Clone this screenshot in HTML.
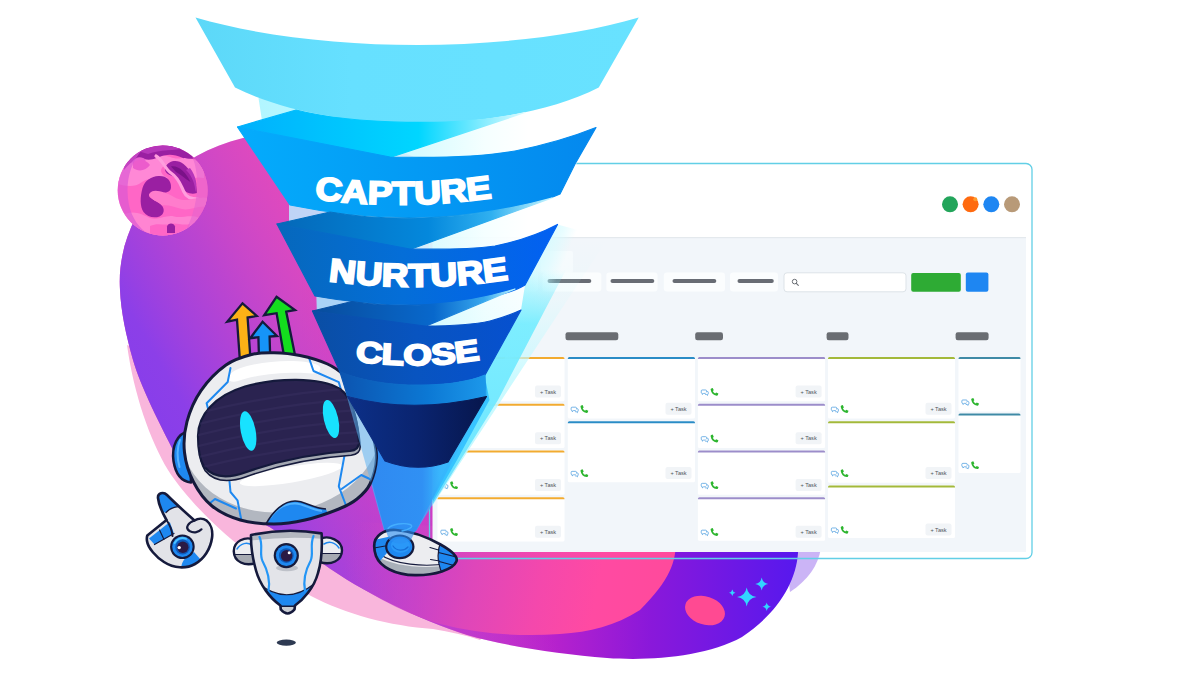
<!DOCTYPE html>
<html lang="en"><head><meta charset="utf-8"><title>Capture Nurture Close</title>
<style>
html,body{margin:0;padding:0;background:#fff;}
body{width:1200px;height:675px;overflow:hidden;font-family:"Liberation Sans",sans-serif;}
svg{display:block}
</style></head><body>
<svg width="1200" height="675" viewBox="0 0 1200 675" font-family="Liberation Sans, sans-serif">
<defs>
  <linearGradient id="gBlob" gradientUnits="userSpaceOnUse" x1="300" y1="0" x2="800" y2="0">
    <stop offset="0" stop-color="#e24abc"/>
    <stop offset="0.3" stop-color="#d838c0"/>
    <stop offset="0.5" stop-color="#b822cc"/>
    <stop offset="0.7" stop-color="#8a18da"/>
    <stop offset="1" stop-color="#5618ee"/>
  </linearGradient>
  <linearGradient id="gBlobL" gradientUnits="userSpaceOnUse" x1="105" y1="335" x2="310" y2="216">
    <stop offset="0" stop-color="#883eea"/>
    <stop offset="0.14" stop-color="#8c3fe8"/>
    <stop offset="0.55" stop-color="#9c40e0" stop-opacity="0.55"/>
    <stop offset="1" stop-color="#b044d8" stop-opacity="0"/>
  </linearGradient>
  <linearGradient id="gPinkIn" gradientUnits="userSpaceOnUse" x1="350" y1="540" x2="660" y2="600">
    <stop offset="0" stop-color="#c844c8" stop-opacity="0"/>
    <stop offset="0.22" stop-color="#cc44c6" stop-opacity="0.7"/>
    <stop offset="0.4" stop-color="#de46ba"/>
    <stop offset="0.62" stop-color="#f448ac"/>
    <stop offset="0.8" stop-color="#ff4aa2"/>
    <stop offset="1" stop-color="#ff4a9c"/>
  </linearGradient>
</defs>
<rect width="1200" height="675" fill="#ffffff"/>
<!-- pink shadow blob -->
<path d="M127,345 C134,395 150,440 168,470 C195,512 250,560 311,596 C345,614 390,626 433,629 C450,632 465,635 480,640 L520,600 L300,400 Z" fill="#f9b6dc"/>
<!-- lavender shadow right -->
<path d="M785,548 L821,548 C818,566 808,580 790,592 Z" fill="#cbb4f6"/>
<!-- main blob -->
<path d="M120,290 C116,225 160,158 243,138 C330,118 430,150 500,210 L820,300 L798,553 C796,582 778,613 742,637 C706,657 650,661 607,658 C560,654 505,646 467,635 C420,620 362,592 322,563 C290,540 272,528 264,524 C225,500 198,485 180,463 C160,425 140,385 133,360 C126,335 121,312 120,290 Z" fill="url(#gBlob)"/>
<path d="M120,290 C116,225 160,158 243,138 C330,118 430,150 500,210 L820,300 L798,553 C796,582 778,613 742,637 C706,657 650,661 607,658 C560,654 505,646 467,635 C420,620 362,592 322,563 C290,540 272,528 264,524 C225,500 198,485 180,463 C160,425 140,385 133,360 C126,335 121,312 120,290 Z" fill="url(#gBlobL)"/>
<!-- inner pink shape -->
<path d="M330,520 L676,540 C676,562 670,580 640,610 C615,626 590,632 560,634 C520,637 480,634 440,624 C400,612 360,590 330,565 Z" fill="url(#gPinkIn)"/>
<!-- small pink ellipse -->
<ellipse cx="705" cy="610.5" rx="20.5" ry="14" transform="rotate(18 705 610.5)" fill="#ff4a92"/>
<!-- sparkles -->
<g fill="#32d6ff">
  <path d="M746.7,587.5 Q748,595.7 756.5,597 Q748,598.3 746.7,606.5 Q745.4,598.3 737,597 Q745.4,595.7 746.7,587.5Z"/>
  <path d="M761.7,577.5 Q762.6,583.1 768.2,584 Q762.6,584.9 761.7,590.5 Q760.8,584.9 755.2,584 Q760.8,583.1 761.7,577.5Z"/>
  <path d="M766.7,602.5 Q767.3,606.1 771,606.7 Q767.3,607.3 766.7,611 Q766.1,607.3 762.4,606.7 Q766.1,606.1 766.7,602.5Z"/>
  <path d="M732.3,589.5 Q732.8,592.2 735.5,592.7 Q732.8,593.2 732.3,596 Q731.8,593.2 729,592.7 Q731.8,592.2 732.3,589.5Z"/>
</g>
<!-- planet -->
<defs><clipPath id="cpPlanet"><circle cx="162.7" cy="190.4" r="45"/></clipPath></defs>
<circle cx="162.7" cy="190.4" r="45" fill="#ff66c6"/>
<g clip-path="url(#cpPlanet)">
  <!-- lighter pink band under the cap -->
  <path d="M118,172 C126,160 134,156 142,158 C150,160 154,154 162,155 C170,156 174,160 182,158 C190,156 196,160 204,166 L204,178 C196,176 190,180 184,178 C178,168 170,164 164,166 C158,170 162,176 168,178 C160,180 150,176 142,182 C134,188 126,186 118,184 Z" fill="#ff88d6"/>
  <!-- top purple cap -->
  <path d="M125,152 L200,138 L206,164 C198,156 191,160 183,158 C175,155 171,154 164,155.5 C157,157 152,161.5 144,159 C137,157 131,162 124,170 Z" fill="#9a1fa2"/>
  <path d="M138,151 C150,145 172,143 184,148 C176,151 160,149 148,154 Z" fill="#b636ba"/>
  <path d="M132,162 C136,156 142,156 146,160 C142,164 136,166 132,162 Z" fill="#e860d0"/>
  <!-- right purple blob -->
  <path d="M165.5,167 C169,160 178,159.5 183.5,164 C191,170 196.5,180 197,193 C191,195 185,192.5 182.5,188 C179.5,182 176.5,177.5 171,175.5 C166,174 164,170.5 165.5,167 Z" fill="#9a1fa2"/>
  <path d="M171,166.5 C178,165 186,172 190.5,182 C185,179 181,174.5 176,172 Z" fill="#7a1288"/>
  <path d="M186,170 C192,176 195,184 195.5,192 C198,186 196,176 190,168 Z" fill="#b636ba"/>
  <!-- light ribbon -->
  <path d="M156,156 C163,160 164,168 171,173 C179,178 181,186 184,192 C186,197 192,199 198,199" fill="none" stroke="#ff9ede" stroke-width="3.2" stroke-linecap="round"/>
  <path d="M133,163 C139,158 146,160 150,165 C146,171 138,172 133,168 Z" fill="#ec5ccc"/>
  <!-- central blob -->
  <path d="M142.5,188 C145,180 151.5,176.5 158.5,176 C166.5,175.5 171.5,180.5 171,187.5 C170.7,192 166,193.2 160,192.5 C155.5,192 151,190.5 149,194.5 C148,198.5 156.5,200.5 161,204.5 C165.5,209 164,214.5 159.5,216.5 C153.5,218.7 147,216.5 143.5,212 C139.8,206.5 140,197 142.5,188 Z" fill="#9a1fa2"/>
  <!-- light streaks -->
  <path d="M149,194.5 C152,189 158,190.5 164,192.5 C172,194.5 176,200 184,200 C192,200 200,196 208,198 L208,207 C198,205 190,211 182,209 C174,207 168,204.5 162,205.5 C158,201.5 150,199.5 149,194.5 Z" fill="#ff7ccc"/>
  <path d="M122,216 C132,209 142,214.5 150,218 C158,221 166,214.5 174,216.5 C182,218.5 190,214 200,218 L196,240 L130,240 Z" fill="#ff84d2"/>
  <path d="M150,226 C158,222 164,226 170,224 C176,222 182,226 190,224 L186,236 L150,238 Z" fill="#ff66c6"/>
  <path d="M167,226.5 C168,222.5 174,222.5 175,226.5 L175,233 L167,233 Z" fill="#9a1fa2"/>
  <!-- left translucent crescent -->
  <path d="M117,190 A45,45 0 0 1 142,150 C129,165 125,185 129,205 C132,218 139,228 148,234 A45,45 0 0 1 117,190 Z" fill="#d858d4" opacity="0.65"/>
  <!-- right translucent crescent -->
  <path d="M191,154 C199,170 201,200 186,230 L215,230 L215,154 Z" fill="#e264d0" opacity="0.55"/>
</g>
<!-- dashboard window -->
<rect x="429.5" y="163.5" width="602.5" height="395" rx="6" fill="none" stroke="#62cfe6" stroke-width="1.3"/>
<rect x="432.5" y="168" width="593.5" height="384" fill="#f2f6fa"/>
<rect x="432.5" y="165" width="593.5" height="72.5" fill="#ffffff"/>
<rect x="432.5" y="237" width="593.5" height="1.2" fill="#e4e9ed"/>
<circle cx="950" cy="204.3" r="8" fill="#23a55b"/>
<circle cx="970.6" cy="204.3" r="8" fill="#ff6a0f"/>
<circle cx="991.3" cy="204.3" r="8" fill="#1e86f2"/>
<circle cx="1012" cy="204.3" r="8" fill="#b89a78"/>
<circle cx="975.3" cy="199.2" r="2" fill="#ff9a2a"/>
<rect x="541" y="251" width="32" height="22" rx="2" fill="#f8fbfd"/>
<rect x="505" y="272.5" width="33.0" height="19" rx="3" fill="#fbfdfe"/>
<rect x="512" y="279" width="17.0" height="4" rx="2" fill="#686c74"/>
<rect x="542.5" y="272.5" width="58.8" height="19" rx="3" fill="#fbfdfe"/>
<rect x="547.5" y="279" width="43.8" height="4" rx="2" fill="#686c74"/>
<rect x="606.3" y="272.5" width="51.2" height="19" rx="3" fill="#fbfdfe"/>
<rect x="610.5" y="279" width="43.8" height="4" rx="2" fill="#686c74"/>
<rect x="663.8" y="272.5" width="61.2" height="19" rx="3" fill="#fbfdfe"/>
<rect x="672.5" y="279" width="43.8" height="4" rx="2" fill="#686c74"/>
<rect x="730" y="272.5" width="48.0" height="19" rx="3" fill="#fbfdfe"/>
<rect x="737.5" y="279" width="36.3" height="4" rx="2" fill="#686c74"/>
<rect x="784" y="272.8" width="122" height="19" rx="3" fill="#ffffff" stroke="#dde3e8" stroke-width="1"/>
<circle cx="794.6" cy="281.6" r="2.3" fill="none" stroke="#6a6e74" stroke-width="1"/><path d="M796.3,283.4 L798.3,285.4" stroke="#6a6e74" stroke-width="1.1" stroke-linecap="round"/>
<rect x="911.2" y="273" width="49.6" height="18.8" rx="2" fill="#2eab34"/>
<rect x="965.8" y="272.6" width="22.6" height="19.2" rx="2" fill="#1e86f2"/>
<rect x="565.5" y="332.2" width="52.8" height="8" rx="2.2" fill="#6a6d72"/>
<rect x="695.2" y="332.2" width="27.8" height="8" rx="2.2" fill="#6a6d72"/>
<rect x="826.6" y="332.2" width="21.9" height="8" rx="2.2" fill="#6a6d72"/>
<rect x="955.6" y="332.2" width="33.0" height="8" rx="2.2" fill="#6a6d72"/>
<rect x="437.5" y="357.0" width="127.0" height="44.3" rx="1.5" fill="#ffffff"/>
<path d="M439.0,357.0 h124.0 a1.5,1.5 0 0 1 1.5,1.5 v0.6 h-127.0 v-0.6 a1.5,1.5 0 0 1 1.5,-1.5z" fill="#f2ab30"/>
<g transform="translate(444.6 392.0) scale(0.78)"><path d="M-3.6,-2.6 h4.4 a1.2,1.2 0 0 1 1.2,1.2 v2 a1.2,1.2 0 0 1 -1.2,1.2 h-2.6 l-1.6,1.4 v-1.4 h-0.2 a1.2,1.2 0 0 1 -1.2,-1.2 v-2 a1.2,1.2 0 0 1 1.2,-1.2z" fill="none" stroke="#3f97dd" stroke-width="0.9"/><path d="M2.4,-0.6 h0.8 a1,1 0 0 1 1,1 v1.8 a1,1 0 0 1 -1,1 v1.2 l-1.4,-1.2 h-1.6" fill="#fff" stroke="#3f97dd" stroke-width="0.9"/></g><g transform="translate(454.0 391.8)"><path d="M-3.2,-3.4 l1.5,-0.5 l1.1,2.3 l-1,0.9 a5,5 0 0 0 2.4,2.4 l0.9,-1 l2.3,1.1 l-0.5,1.5 a1.2,1.2 0 0 1 -1.2,0.6 a7.4,7.4 0 0 1 -6.1,-6.1 a1.2,1.2 0 0 1 0.6,-1.2z" fill="#2db52f"/></g>
<rect x="535.0" y="385.5" width="26" height="12" rx="2" fill="#f1f4f7"/><text x="548.0" y="393.7" font-size="5.6" fill="#50545a" text-anchor="middle">+ Task</text>
<rect x="437.5" y="403.7" width="127.0" height="44.3" rx="1.5" fill="#ffffff"/>
<path d="M439.0,403.7 h124.0 a1.5,1.5 0 0 1 1.5,1.5 v0.6 h-127.0 v-0.6 a1.5,1.5 0 0 1 1.5,-1.5z" fill="#f2ab30"/>
<g transform="translate(444.6 438.7) scale(0.78)"><path d="M-3.6,-2.6 h4.4 a1.2,1.2 0 0 1 1.2,1.2 v2 a1.2,1.2 0 0 1 -1.2,1.2 h-2.6 l-1.6,1.4 v-1.4 h-0.2 a1.2,1.2 0 0 1 -1.2,-1.2 v-2 a1.2,1.2 0 0 1 1.2,-1.2z" fill="none" stroke="#3f97dd" stroke-width="0.9"/><path d="M2.4,-0.6 h0.8 a1,1 0 0 1 1,1 v1.8 a1,1 0 0 1 -1,1 v1.2 l-1.4,-1.2 h-1.6" fill="#fff" stroke="#3f97dd" stroke-width="0.9"/></g><g transform="translate(454.0 438.5)"><path d="M-3.2,-3.4 l1.5,-0.5 l1.1,2.3 l-1,0.9 a5,5 0 0 0 2.4,2.4 l0.9,-1 l2.3,1.1 l-0.5,1.5 a1.2,1.2 0 0 1 -1.2,0.6 a7.4,7.4 0 0 1 -6.1,-6.1 a1.2,1.2 0 0 1 0.6,-1.2z" fill="#2db52f"/></g>
<rect x="535.0" y="432.2" width="26" height="12" rx="2" fill="#f1f4f7"/><text x="548.0" y="440.4" font-size="5.6" fill="#50545a" text-anchor="middle">+ Task</text>
<rect x="437.5" y="450.4" width="127.0" height="44.3" rx="1.5" fill="#ffffff"/>
<path d="M439.0,450.4 h124.0 a1.5,1.5 0 0 1 1.5,1.5 v0.6 h-127.0 v-0.6 a1.5,1.5 0 0 1 1.5,-1.5z" fill="#f2ab30"/>
<g transform="translate(444.6 485.4) scale(0.78)"><path d="M-3.6,-2.6 h4.4 a1.2,1.2 0 0 1 1.2,1.2 v2 a1.2,1.2 0 0 1 -1.2,1.2 h-2.6 l-1.6,1.4 v-1.4 h-0.2 a1.2,1.2 0 0 1 -1.2,-1.2 v-2 a1.2,1.2 0 0 1 1.2,-1.2z" fill="none" stroke="#3f97dd" stroke-width="0.9"/><path d="M2.4,-0.6 h0.8 a1,1 0 0 1 1,1 v1.8 a1,1 0 0 1 -1,1 v1.2 l-1.4,-1.2 h-1.6" fill="#fff" stroke="#3f97dd" stroke-width="0.9"/></g><g transform="translate(454.0 485.2)"><path d="M-3.2,-3.4 l1.5,-0.5 l1.1,2.3 l-1,0.9 a5,5 0 0 0 2.4,2.4 l0.9,-1 l2.3,1.1 l-0.5,1.5 a1.2,1.2 0 0 1 -1.2,0.6 a7.4,7.4 0 0 1 -6.1,-6.1 a1.2,1.2 0 0 1 0.6,-1.2z" fill="#2db52f"/></g>
<rect x="535.0" y="478.9" width="26" height="12" rx="2" fill="#f1f4f7"/><text x="548.0" y="487.1" font-size="5.6" fill="#50545a" text-anchor="middle">+ Task</text>
<rect x="437.5" y="497.2" width="127.0" height="44.3" rx="1.5" fill="#ffffff"/>
<path d="M439.0,497.2 h124.0 a1.5,1.5 0 0 1 1.5,1.5 v0.6 h-127.0 v-0.6 a1.5,1.5 0 0 1 1.5,-1.5z" fill="#f2ab30"/>
<g transform="translate(444.6 532.2) scale(0.78)"><path d="M-3.6,-2.6 h4.4 a1.2,1.2 0 0 1 1.2,1.2 v2 a1.2,1.2 0 0 1 -1.2,1.2 h-2.6 l-1.6,1.4 v-1.4 h-0.2 a1.2,1.2 0 0 1 -1.2,-1.2 v-2 a1.2,1.2 0 0 1 1.2,-1.2z" fill="none" stroke="#3f97dd" stroke-width="0.9"/><path d="M2.4,-0.6 h0.8 a1,1 0 0 1 1,1 v1.8 a1,1 0 0 1 -1,1 v1.2 l-1.4,-1.2 h-1.6" fill="#fff" stroke="#3f97dd" stroke-width="0.9"/></g><g transform="translate(454.0 532.0)"><path d="M-3.2,-3.4 l1.5,-0.5 l1.1,2.3 l-1,0.9 a5,5 0 0 0 2.4,2.4 l0.9,-1 l2.3,1.1 l-0.5,1.5 a1.2,1.2 0 0 1 -1.2,0.6 a7.4,7.4 0 0 1 -6.1,-6.1 a1.2,1.2 0 0 1 0.6,-1.2z" fill="#2db52f"/></g>
<rect x="535.0" y="525.7" width="26" height="12" rx="2" fill="#f1f4f7"/><text x="548.0" y="533.9" font-size="5.6" fill="#50545a" text-anchor="middle">+ Task</text>
<rect x="567.8" y="357.0" width="127.2" height="61.5" rx="1.5" fill="#ffffff"/>
<path d="M569.3,357.0 h124.2 a1.5,1.5 0 0 1 1.5,1.5 v0.6 h-127.2 v-0.6 a1.5,1.5 0 0 1 1.5,-1.5z" fill="#2a8cc6"/>
<g transform="translate(574.9 409.2) scale(0.78)"><path d="M-3.6,-2.6 h4.4 a1.2,1.2 0 0 1 1.2,1.2 v2 a1.2,1.2 0 0 1 -1.2,1.2 h-2.6 l-1.6,1.4 v-1.4 h-0.2 a1.2,1.2 0 0 1 -1.2,-1.2 v-2 a1.2,1.2 0 0 1 1.2,-1.2z" fill="none" stroke="#3f97dd" stroke-width="0.9"/><path d="M2.4,-0.6 h0.8 a1,1 0 0 1 1,1 v1.8 a1,1 0 0 1 -1,1 v1.2 l-1.4,-1.2 h-1.6" fill="#fff" stroke="#3f97dd" stroke-width="0.9"/></g><g transform="translate(584.3 409.0)"><path d="M-3.2,-3.4 l1.5,-0.5 l1.1,2.3 l-1,0.9 a5,5 0 0 0 2.4,2.4 l0.9,-1 l2.3,1.1 l-0.5,1.5 a1.2,1.2 0 0 1 -1.2,0.6 a7.4,7.4 0 0 1 -6.1,-6.1 a1.2,1.2 0 0 1 0.6,-1.2z" fill="#2db52f"/></g>
<rect x="665.5" y="402.7" width="26" height="12" rx="2" fill="#f1f4f7"/><text x="678.5" y="410.9" font-size="5.6" fill="#50545a" text-anchor="middle">+ Task</text>
<rect x="567.8" y="421.2" width="127.2" height="61.0" rx="1.5" fill="#ffffff"/>
<path d="M569.3,421.2 h124.2 a1.5,1.5 0 0 1 1.5,1.5 v0.6 h-127.2 v-0.6 a1.5,1.5 0 0 1 1.5,-1.5z" fill="#2a8cc6"/>
<g transform="translate(574.9 473.4) scale(0.78)"><path d="M-3.6,-2.6 h4.4 a1.2,1.2 0 0 1 1.2,1.2 v2 a1.2,1.2 0 0 1 -1.2,1.2 h-2.6 l-1.6,1.4 v-1.4 h-0.2 a1.2,1.2 0 0 1 -1.2,-1.2 v-2 a1.2,1.2 0 0 1 1.2,-1.2z" fill="none" stroke="#3f97dd" stroke-width="0.9"/><path d="M2.4,-0.6 h0.8 a1,1 0 0 1 1,1 v1.8 a1,1 0 0 1 -1,1 v1.2 l-1.4,-1.2 h-1.6" fill="#fff" stroke="#3f97dd" stroke-width="0.9"/></g><g transform="translate(584.3 473.2)"><path d="M-3.2,-3.4 l1.5,-0.5 l1.1,2.3 l-1,0.9 a5,5 0 0 0 2.4,2.4 l0.9,-1 l2.3,1.1 l-0.5,1.5 a1.2,1.2 0 0 1 -1.2,0.6 a7.4,7.4 0 0 1 -6.1,-6.1 a1.2,1.2 0 0 1 0.6,-1.2z" fill="#2db52f"/></g>
<rect x="665.5" y="466.9" width="26" height="12" rx="2" fill="#f1f4f7"/><text x="678.5" y="475.1" font-size="5.6" fill="#50545a" text-anchor="middle">+ Task</text>
<rect x="697.9" y="357.0" width="127.2" height="44.3" rx="1.5" fill="#ffffff"/>
<path d="M699.4,357.0 h124.2 a1.5,1.5 0 0 1 1.5,1.5 v0.6 h-127.2 v-0.6 a1.5,1.5 0 0 1 1.5,-1.5z" fill="#9c8dca"/>
<g transform="translate(705.0 392.0) scale(0.78)"><path d="M-3.6,-2.6 h4.4 a1.2,1.2 0 0 1 1.2,1.2 v2 a1.2,1.2 0 0 1 -1.2,1.2 h-2.6 l-1.6,1.4 v-1.4 h-0.2 a1.2,1.2 0 0 1 -1.2,-1.2 v-2 a1.2,1.2 0 0 1 1.2,-1.2z" fill="none" stroke="#3f97dd" stroke-width="0.9"/><path d="M2.4,-0.6 h0.8 a1,1 0 0 1 1,1 v1.8 a1,1 0 0 1 -1,1 v1.2 l-1.4,-1.2 h-1.6" fill="#fff" stroke="#3f97dd" stroke-width="0.9"/></g><g transform="translate(714.4 391.8)"><path d="M-3.2,-3.4 l1.5,-0.5 l1.1,2.3 l-1,0.9 a5,5 0 0 0 2.4,2.4 l0.9,-1 l2.3,1.1 l-0.5,1.5 a1.2,1.2 0 0 1 -1.2,0.6 a7.4,7.4 0 0 1 -6.1,-6.1 a1.2,1.2 0 0 1 0.6,-1.2z" fill="#2db52f"/></g>
<rect x="795.6" y="385.5" width="26" height="12" rx="2" fill="#f1f4f7"/><text x="808.6" y="393.7" font-size="5.6" fill="#50545a" text-anchor="middle">+ Task</text>
<rect x="697.9" y="403.7" width="127.2" height="44.3" rx="1.5" fill="#ffffff"/>
<path d="M699.4,403.7 h124.2 a1.5,1.5 0 0 1 1.5,1.5 v0.6 h-127.2 v-0.6 a1.5,1.5 0 0 1 1.5,-1.5z" fill="#9c8dca"/>
<g transform="translate(705.0 438.7) scale(0.78)"><path d="M-3.6,-2.6 h4.4 a1.2,1.2 0 0 1 1.2,1.2 v2 a1.2,1.2 0 0 1 -1.2,1.2 h-2.6 l-1.6,1.4 v-1.4 h-0.2 a1.2,1.2 0 0 1 -1.2,-1.2 v-2 a1.2,1.2 0 0 1 1.2,-1.2z" fill="none" stroke="#3f97dd" stroke-width="0.9"/><path d="M2.4,-0.6 h0.8 a1,1 0 0 1 1,1 v1.8 a1,1 0 0 1 -1,1 v1.2 l-1.4,-1.2 h-1.6" fill="#fff" stroke="#3f97dd" stroke-width="0.9"/></g><g transform="translate(714.4 438.5)"><path d="M-3.2,-3.4 l1.5,-0.5 l1.1,2.3 l-1,0.9 a5,5 0 0 0 2.4,2.4 l0.9,-1 l2.3,1.1 l-0.5,1.5 a1.2,1.2 0 0 1 -1.2,0.6 a7.4,7.4 0 0 1 -6.1,-6.1 a1.2,1.2 0 0 1 0.6,-1.2z" fill="#2db52f"/></g>
<rect x="795.6" y="432.2" width="26" height="12" rx="2" fill="#f1f4f7"/><text x="808.6" y="440.4" font-size="5.6" fill="#50545a" text-anchor="middle">+ Task</text>
<rect x="697.9" y="450.4" width="127.2" height="44.3" rx="1.5" fill="#ffffff"/>
<path d="M699.4,450.4 h124.2 a1.5,1.5 0 0 1 1.5,1.5 v0.6 h-127.2 v-0.6 a1.5,1.5 0 0 1 1.5,-1.5z" fill="#9c8dca"/>
<g transform="translate(705.0 485.4) scale(0.78)"><path d="M-3.6,-2.6 h4.4 a1.2,1.2 0 0 1 1.2,1.2 v2 a1.2,1.2 0 0 1 -1.2,1.2 h-2.6 l-1.6,1.4 v-1.4 h-0.2 a1.2,1.2 0 0 1 -1.2,-1.2 v-2 a1.2,1.2 0 0 1 1.2,-1.2z" fill="none" stroke="#3f97dd" stroke-width="0.9"/><path d="M2.4,-0.6 h0.8 a1,1 0 0 1 1,1 v1.8 a1,1 0 0 1 -1,1 v1.2 l-1.4,-1.2 h-1.6" fill="#fff" stroke="#3f97dd" stroke-width="0.9"/></g><g transform="translate(714.4 485.2)"><path d="M-3.2,-3.4 l1.5,-0.5 l1.1,2.3 l-1,0.9 a5,5 0 0 0 2.4,2.4 l0.9,-1 l2.3,1.1 l-0.5,1.5 a1.2,1.2 0 0 1 -1.2,0.6 a7.4,7.4 0 0 1 -6.1,-6.1 a1.2,1.2 0 0 1 0.6,-1.2z" fill="#2db52f"/></g>
<rect x="795.6" y="478.9" width="26" height="12" rx="2" fill="#f1f4f7"/><text x="808.6" y="487.1" font-size="5.6" fill="#50545a" text-anchor="middle">+ Task</text>
<rect x="697.9" y="497.2" width="127.2" height="43.5" rx="1.5" fill="#ffffff"/>
<path d="M699.4,497.2 h124.2 a1.5,1.5 0 0 1 1.5,1.5 v0.6 h-127.2 v-0.6 a1.5,1.5 0 0 1 1.5,-1.5z" fill="#9c8dca"/>
<g transform="translate(705.0 532.2) scale(0.78)"><path d="M-3.6,-2.6 h4.4 a1.2,1.2 0 0 1 1.2,1.2 v2 a1.2,1.2 0 0 1 -1.2,1.2 h-2.6 l-1.6,1.4 v-1.4 h-0.2 a1.2,1.2 0 0 1 -1.2,-1.2 v-2 a1.2,1.2 0 0 1 1.2,-1.2z" fill="none" stroke="#3f97dd" stroke-width="0.9"/><path d="M2.4,-0.6 h0.8 a1,1 0 0 1 1,1 v1.8 a1,1 0 0 1 -1,1 v1.2 l-1.4,-1.2 h-1.6" fill="#fff" stroke="#3f97dd" stroke-width="0.9"/></g><g transform="translate(714.4 532.0)"><path d="M-3.2,-3.4 l1.5,-0.5 l1.1,2.3 l-1,0.9 a5,5 0 0 0 2.4,2.4 l0.9,-1 l2.3,1.1 l-0.5,1.5 a1.2,1.2 0 0 1 -1.2,0.6 a7.4,7.4 0 0 1 -6.1,-6.1 a1.2,1.2 0 0 1 0.6,-1.2z" fill="#2db52f"/></g>
<rect x="795.6" y="525.7" width="26" height="12" rx="2" fill="#f1f4f7"/><text x="808.6" y="533.9" font-size="5.6" fill="#50545a" text-anchor="middle">+ Task</text>
<rect x="828.0" y="357.0" width="127.0" height="61.5" rx="1.5" fill="#ffffff"/>
<path d="M829.5,357.0 h124.0 a1.5,1.5 0 0 1 1.5,1.5 v0.6 h-127.0 v-0.6 a1.5,1.5 0 0 1 1.5,-1.5z" fill="#a3b93a"/>
<g transform="translate(835.1 409.2) scale(0.78)"><path d="M-3.6,-2.6 h4.4 a1.2,1.2 0 0 1 1.2,1.2 v2 a1.2,1.2 0 0 1 -1.2,1.2 h-2.6 l-1.6,1.4 v-1.4 h-0.2 a1.2,1.2 0 0 1 -1.2,-1.2 v-2 a1.2,1.2 0 0 1 1.2,-1.2z" fill="none" stroke="#3f97dd" stroke-width="0.9"/><path d="M2.4,-0.6 h0.8 a1,1 0 0 1 1,1 v1.8 a1,1 0 0 1 -1,1 v1.2 l-1.4,-1.2 h-1.6" fill="#fff" stroke="#3f97dd" stroke-width="0.9"/></g><g transform="translate(844.5 409.0)"><path d="M-3.2,-3.4 l1.5,-0.5 l1.1,2.3 l-1,0.9 a5,5 0 0 0 2.4,2.4 l0.9,-1 l2.3,1.1 l-0.5,1.5 a1.2,1.2 0 0 1 -1.2,0.6 a7.4,7.4 0 0 1 -6.1,-6.1 a1.2,1.2 0 0 1 0.6,-1.2z" fill="#2db52f"/></g>
<rect x="925.5" y="402.7" width="26" height="12" rx="2" fill="#f1f4f7"/><text x="938.5" y="410.9" font-size="5.6" fill="#50545a" text-anchor="middle">+ Task</text>
<rect x="828.0" y="421.2" width="127.0" height="61.5" rx="1.5" fill="#ffffff"/>
<path d="M829.5,421.2 h124.0 a1.5,1.5 0 0 1 1.5,1.5 v0.6 h-127.0 v-0.6 a1.5,1.5 0 0 1 1.5,-1.5z" fill="#a3b93a"/>
<g transform="translate(835.1 473.4) scale(0.78)"><path d="M-3.6,-2.6 h4.4 a1.2,1.2 0 0 1 1.2,1.2 v2 a1.2,1.2 0 0 1 -1.2,1.2 h-2.6 l-1.6,1.4 v-1.4 h-0.2 a1.2,1.2 0 0 1 -1.2,-1.2 v-2 a1.2,1.2 0 0 1 1.2,-1.2z" fill="none" stroke="#3f97dd" stroke-width="0.9"/><path d="M2.4,-0.6 h0.8 a1,1 0 0 1 1,1 v1.8 a1,1 0 0 1 -1,1 v1.2 l-1.4,-1.2 h-1.6" fill="#fff" stroke="#3f97dd" stroke-width="0.9"/></g><g transform="translate(844.5 473.2)"><path d="M-3.2,-3.4 l1.5,-0.5 l1.1,2.3 l-1,0.9 a5,5 0 0 0 2.4,2.4 l0.9,-1 l2.3,1.1 l-0.5,1.5 a1.2,1.2 0 0 1 -1.2,0.6 a7.4,7.4 0 0 1 -6.1,-6.1 a1.2,1.2 0 0 1 0.6,-1.2z" fill="#2db52f"/></g>
<rect x="925.5" y="466.9" width="26" height="12" rx="2" fill="#f1f4f7"/><text x="938.5" y="475.1" font-size="5.6" fill="#50545a" text-anchor="middle">+ Task</text>
<rect x="828.0" y="485.5" width="127.0" height="52.5" rx="1.5" fill="#ffffff"/>
<path d="M829.5,485.5 h124.0 a1.5,1.5 0 0 1 1.5,1.5 v0.6 h-127.0 v-0.6 a1.5,1.5 0 0 1 1.5,-1.5z" fill="#a3b93a"/>
<g transform="translate(835.1 530.0) scale(0.78)"><path d="M-3.6,-2.6 h4.4 a1.2,1.2 0 0 1 1.2,1.2 v2 a1.2,1.2 0 0 1 -1.2,1.2 h-2.6 l-1.6,1.4 v-1.4 h-0.2 a1.2,1.2 0 0 1 -1.2,-1.2 v-2 a1.2,1.2 0 0 1 1.2,-1.2z" fill="none" stroke="#3f97dd" stroke-width="0.9"/><path d="M2.4,-0.6 h0.8 a1,1 0 0 1 1,1 v1.8 a1,1 0 0 1 -1,1 v1.2 l-1.4,-1.2 h-1.6" fill="#fff" stroke="#3f97dd" stroke-width="0.9"/></g><g transform="translate(844.5 529.8)"><path d="M-3.2,-3.4 l1.5,-0.5 l1.1,2.3 l-1,0.9 a5,5 0 0 0 2.4,2.4 l0.9,-1 l2.3,1.1 l-0.5,1.5 a1.2,1.2 0 0 1 -1.2,0.6 a7.4,7.4 0 0 1 -6.1,-6.1 a1.2,1.2 0 0 1 0.6,-1.2z" fill="#2db52f"/></g>
<rect x="925.5" y="523.5" width="26" height="12" rx="2" fill="#f1f4f7"/><text x="938.5" y="531.7" font-size="5.6" fill="#50545a" text-anchor="middle">+ Task</text>
<rect x="958.5" y="357.0" width="62.0" height="54.5" rx="1.5" fill="#ffffff"/>
<path d="M960.0,357.0 h59.0 a1.5,1.5 0 0 1 1.5,1.5 v0.6 h-62.0 v-0.6 a1.5,1.5 0 0 1 1.5,-1.5z" fill="#3f8aa6"/>
<g transform="translate(965.6 402.0) scale(0.78)"><path d="M-3.6,-2.6 h4.4 a1.2,1.2 0 0 1 1.2,1.2 v2 a1.2,1.2 0 0 1 -1.2,1.2 h-2.6 l-1.6,1.4 v-1.4 h-0.2 a1.2,1.2 0 0 1 -1.2,-1.2 v-2 a1.2,1.2 0 0 1 1.2,-1.2z" fill="none" stroke="#3f97dd" stroke-width="0.9"/><path d="M2.4,-0.6 h0.8 a1,1 0 0 1 1,1 v1.8 a1,1 0 0 1 -1,1 v1.2 l-1.4,-1.2 h-1.6" fill="#fff" stroke="#3f97dd" stroke-width="0.9"/></g><g transform="translate(975.0 401.8)"><path d="M-3.2,-3.4 l1.5,-0.5 l1.1,2.3 l-1,0.9 a5,5 0 0 0 2.4,2.4 l0.9,-1 l2.3,1.1 l-0.5,1.5 a1.2,1.2 0 0 1 -1.2,0.6 a7.4,7.4 0 0 1 -6.1,-6.1 a1.2,1.2 0 0 1 0.6,-1.2z" fill="#2db52f"/></g>
<rect x="958.5" y="413.4" width="62.0" height="59.6" rx="1.5" fill="#ffffff"/>
<path d="M960.0,413.4 h59.0 a1.5,1.5 0 0 1 1.5,1.5 v0.6 h-62.0 v-0.6 a1.5,1.5 0 0 1 1.5,-1.5z" fill="#3f8aa6"/>
<g transform="translate(965.6 465.4) scale(0.78)"><path d="M-3.6,-2.6 h4.4 a1.2,1.2 0 0 1 1.2,1.2 v2 a1.2,1.2 0 0 1 -1.2,1.2 h-2.6 l-1.6,1.4 v-1.4 h-0.2 a1.2,1.2 0 0 1 -1.2,-1.2 v-2 a1.2,1.2 0 0 1 1.2,-1.2z" fill="none" stroke="#3f97dd" stroke-width="0.9"/><path d="M2.4,-0.6 h0.8 a1,1 0 0 1 1,1 v1.8 a1,1 0 0 1 -1,1 v1.2 l-1.4,-1.2 h-1.6" fill="#fff" stroke="#3f97dd" stroke-width="0.9"/></g><g transform="translate(975.0 465.2)"><path d="M-3.2,-3.4 l1.5,-0.5 l1.1,2.3 l-1,0.9 a5,5 0 0 0 2.4,2.4 l0.9,-1 l2.3,1.1 l-0.5,1.5 a1.2,1.2 0 0 1 -1.2,0.6 a7.4,7.4 0 0 1 -6.1,-6.1 a1.2,1.2 0 0 1 0.6,-1.2z" fill="#2db52f"/></g>
<defs>
  <linearGradient id="gConeL" gradientUnits="userSpaceOnUse" x1="0" y1="330" x2="0" y2="540">
    <stop offset="0" stop-color="#56a8f6" stop-opacity="0.7"/>
    <stop offset="1" stop-color="#4aa0f8" stop-opacity="0.92"/>
  </linearGradient>
  <linearGradient id="gConeI" gradientUnits="userSpaceOnUse" x1="350" y1="0" x2="470" y2="0">
    <stop offset="0" stop-color="#2a86f0" stop-opacity="0.9"/>
    <stop offset="0.6" stop-color="#2c90f4" stop-opacity="0.92"/>
    <stop offset="0.75" stop-color="#36b4fc" stop-opacity="0.95"/>
    <stop offset="1" stop-color="#3cc0ff" stop-opacity="0.95"/>
  </linearGradient>
  <!-- outermost pale cone -->
  <linearGradient id="gConeA" gradientUnits="userSpaceOnUse" x1="0" y1="240" x2="0" y2="540">
    <stop offset="0" stop-color="#c6faff" stop-opacity="0"/>
    <stop offset="0.2" stop-color="#c6faff" stop-opacity="0.14"/>
    <stop offset="0.33" stop-color="#c4f9ff" stop-opacity="0.5"/>
    <stop offset="0.46" stop-color="#c2f9ff" stop-opacity="0.85"/>
    <stop offset="1" stop-color="#b8f6ff" stop-opacity="0.95"/>
  </linearGradient>
  <!-- main cyan cone -->
  <linearGradient id="gConeO" gradientUnits="userSpaceOnUse" x1="0" y1="270" x2="0" y2="540">
    <stop offset="0" stop-color="#7aeeff" stop-opacity="0"/>
    <stop offset="0.1" stop-color="#78edff" stop-opacity="0.5"/>
    <stop offset="0.2" stop-color="#70ecff" stop-opacity="0.88"/>
    <stop offset="0.7" stop-color="#66e4ff" stop-opacity="0.88"/>
    <stop offset="1" stop-color="#54c8ff" stop-opacity="0.9"/>
  </linearGradient>
  <linearGradient id="gGlowR" gradientUnits="userSpaceOnUse" x1="536" y1="262" x2="560" y2="272">
    <stop offset="0" stop-color="#d6fbff" stop-opacity="0.95"/>
    <stop offset="0.5" stop-color="#d6fbff" stop-opacity="0.55"/>
    <stop offset="1" stop-color="#d6fbff" stop-opacity="0"/>
  </linearGradient>
  <clipPath id="cpRightOfPanel"><rect x="432.5" y="0" width="800" height="675"/></clipPath>
  <clipPath id="cpLeftOfPanel"><rect x="0" y="0" width="432.5" height="675"/></clipPath>
</defs>
<!-- cone tint over the blob (left of the panel), drawn beneath the robot -->
<path d="M323,311 L384,530 Q400,539 416,531 L523,360 L400,300 Z" fill="url(#gConeL)" clip-path="url(#cpLeftOfPanel)"/>
<!-- outermost pale cone -->
<path d="M416,531 L468,451 L568.7,298 L607,240 L540,240 L480,380 Z" fill="url(#gConeA)" clip-path="url(#cpRightOfPanel)"/>
<!-- white glow hugging the funnel's right edge -->
<path d="M557.5,224.5 L600,236 L560,318 L532,352 L500,372 L521,310 L525,285 Z" fill="url(#gGlowR)"/>
<!-- main cyan cone over the dashboard -->
<path d="M384,530 Q400,539 416,531 L498,400 L547,306 L566,270 L521,270 L440,300 L400,400 Z" fill="url(#gConeO)" clip-path="url(#cpRightOfPanel)"/>
<!-- sky-blue sliver next to the last band -->
<path d="M485.3,379 L486.5,396.5 L448,462 L416,531 L457,460 L489.5,400 Z" fill="#34c2ff" opacity="0.95" clip-path="url(#cpRightOfPanel)"/>
<!-- inner core from the last band to the hand -->
<path d="M348,392 L384.5,530 Q400,538 416,531 L486.5,396.5 Z" fill="url(#gConeI)"/>
<g stroke="#151a3c" stroke-width="2.3" stroke-linejoin="miter">
<path d="M242.5,303.3 L256.8,316 L247.6,317.5 L250.6,361 L240,362 L237,319.6 L227.3,321.6 Z" fill="#fcb116"/>
<path d="M276.5,296.8 L295,310 L286.2,311.6 L294.8,354 L284,356 L276.6,313.2 L264.2,315.2 Z" fill="#14de1e"/>
<path d="M262.6,321.8 L277,336 L269.6,336.6 L270.2,358 L259,358 L258.4,337.2 L250.2,338.2 Z" fill="#1694f8"/>
</g>
<ellipse cx="286.3" cy="642.6" rx="9.6" ry="3.1" fill="#2e3a52"/>
<g stroke-linejoin="round" stroke-linecap="round">
<clipPath id="cpLH"><path d="M147.3,535.5 L166.5,520 C162,512 158.5,503 158,498 C157.5,493 163.5,491.5 167,495 C176,504 186,513 194.5,520.5 C198,518.3 203,518 206.5,520.5 C211,524 213,531 212,538 C210.5,549 204,559 195,564 C186,569 174,568.5 164,562 C156,557 148,548 147,541 C146.7,539 146.8,537 147.3,535.5 Z"/></clipPath>
<path d="M147.3,535.5 L166.5,520 C162,512 158.5,503 158,498 C157.5,493 163.5,491.5 167,495 C176,504 186,513 194.5,520.5 C198,518.3 203,518 206.5,520.5 C211,524 213,531 212,538 C210.5,549 204,559 195,564 C186,569 174,568.5 164,562 C156,557 148,548 147,541 C146.7,539 146.8,537 147.3,535.5 Z" fill="#e2e3e8"/>
<g clip-path="url(#cpLH)">
<path d="M150,485 L190,485 L184,507.5 C178,505 170,508 166,512.5 L150,512 Z" fill="#1e88f0"/>
<path d="M184,507.5 C178,505 170,508 166,512.5" fill="none" stroke="#151a3c" stroke-width="1.2"/>
<path d="M149,538.5 L169.8,522 L174,533.5 L154.5,544.5 Z" fill="#1e88f0"/>
<path d="M154.5,544.5 L174,533.5 M159.5,530 L164,539.5" fill="none" stroke="#151a3c" stroke-width="1.2"/>
<path d="M198,562 C205,555 209.5,546 211,537 L218,552 L204,568 Z" fill="#b2b7c0"/>
<path d="M181,570 C181,561 186,556 194,552 L201,560 L192,571 Z" fill="#1e88f0"/>
<path d="M160,561 C166,565 174,567 182,566 L180,572 L160,570 Z" fill="#b2b7c0"/>
</g>
<path d="M147.3,535.5 L166.5,520 C162,512 158.5,503 158,498 C157.5,493 163.5,491.5 167,495 C176,504 186,513 194.5,520.5 C198,518.3 203,518 206.5,520.5 C211,524 213,531 212,538 C210.5,549 204,559 195,564 C186,569 174,568.5 164,562 C156,557 148,548 147,541 C146.7,539 146.8,537 147.3,535.5 Z" fill="none" stroke="#151a3c" stroke-width="2.6"/>
<path d="M166.5,520 C170,525 172,530 172.5,536" fill="none" stroke="#151a3c" stroke-width="2"/>
<path d="M194.5,520.5 C188.5,522.5 184.5,527.5 189.5,531 C194,533.6 199,532 201.5,529.3" fill="none" stroke="#151a3c" stroke-width="2.2"/>
<circle cx="182.4" cy="546.8" r="12.3" fill="#151a3c"/><circle cx="182.4" cy="546.8" r="10.2" fill="#1e88f0"/><path d="M174.6,543 A8.6,8.6 0 0 1 186,538.8" fill="none" stroke="#4cc4ff" stroke-width="1.8"/><circle cx="182.6" cy="547" r="7.4" fill="#0e58b8"/><circle cx="182.8" cy="547.2" r="5.7" fill="#2b1a44"/><circle cx="179.2" cy="547.6" r="1.7" fill="#ffffff"/>
</g>
<g stroke-linejoin="round" stroke-linecap="round">
<clipPath id="cpSL"><path d="M255,540 C245,535.5 233.5,541.5 233.8,551.5 C234,562 245,566.5 256,563 Z"/></clipPath>
<path d="M255,540 C245,535.5 233.5,541.5 233.8,551.5 C234,562 245,566.5 256,563 Z" fill="#ecedf0"/>
<g clip-path="url(#cpSL)"><rect x="230" y="554" width="115" height="14" fill="#a6aab2"/></g>
<path d="M255,540 C245,535.5 233.5,541.5 233.8,551.5 C234,562 245,566.5 256,563 Z" fill="none" stroke="#151a3c" stroke-width="2.4"/>
<clipPath id="cpSR"><path d="M319.5,539 C329,534.5 342.2,540.5 342,550.5 C341.8,561 331,565.5 319.5,562 Z"/></clipPath>
<path d="M319.5,539 C329,534.5 342.2,540.5 342,550.5 C341.8,561 331,565.5 319.5,562 Z" fill="#ecedf0"/>
<g clip-path="url(#cpSR)"><rect x="230" y="554" width="115" height="14" fill="#a6aab2"/></g>
<path d="M319.5,539 C329,534.5 342.2,540.5 342,550.5 C341.8,561 331,565.5 319.5,562 Z" fill="none" stroke="#151a3c" stroke-width="2.4"/>
<path d="M237,549 C241,543 247,542 252,545" fill="none" stroke="#1e88f0" stroke-width="1.5"/>
<path d="M339,548 C335,542 329,541 324,544" fill="none" stroke="#1e88f0" stroke-width="1.5"/>
<path d="M235.5,554.5 L254,554.5 M322,553.5 L340.5,553.5" fill="none" stroke="#151a3c" stroke-width="1.1"/>
<clipPath id="cpBody"><path d="M251,535 Q286,527.5 321.6,533.4 C322.5,550 320.5,565 318,573 C314,588 303,600 295,605.5 L294.5,609.5 Q287.6,617.5 280.8,609.5 L280.4,605.5 C270,598 260,585 256,570.5 C252.5,558 250.8,545 251,535 Z"/></clipPath>
<path d="M251,535 Q286,527.5 321.6,533.4 C322.5,550 320.5,565 318,573 C314,588 303,600 295,605.5 L294.5,609.5 Q287.6,617.5 280.8,609.5 L280.4,605.5 C270,598 260,585 256,570.5 C252.5,558 250.8,545 251,535 Z" fill="#e3e4e9"/>
<g clip-path="url(#cpBody)">
<path d="M245,525 L330,525 L330,539.5 Q286,535 245,541.5 Z" fill="#b4b8c0"/>
<ellipse cx="287" cy="568" rx="11" ry="3.2" fill="#b4b8c0" opacity="0.8"/>
<path d="M258,583 Q286,606 314,584 L312,610 L260,610 Z" fill="#1e88f0"/>
<path d="M276,606.5 L298,606.5 L298,620 L276,620 Z" fill="#c9cdd3"/>
<path d="M276,606.3 L298,606.3" stroke="#151a3c" stroke-width="1.6"/>
<path d="M258,583 Q286,606 314,584" fill="none" stroke="#151a3c" stroke-width="1.2"/>
<path d="M259.5,537 C263.5,545 259,554 262.5,561 C268,571 270.5,580 268.5,591" fill="none" stroke="#2496f6" stroke-width="2.2"/>
<path d="M313.5,536 C309.5,545 314,554 310.5,561 C305,571 303,580 305,591" fill="none" stroke="#2496f6" stroke-width="2.2"/>
</g>
<path d="M251,535 Q286,527.5 321.6,533.4 C322.5,550 320.5,565 318,573 C314,588 303,600 295,605.5 L294.5,609.5 Q287.6,617.5 280.8,609.5 L280.4,605.5 C270,598 260,585 256,570.5 C252.5,558 250.8,545 251,535 Z" fill="none" stroke="#151a3c" stroke-width="2.6"/>
<circle cx="286.3" cy="555.6" r="12.6" fill="#151a3c"/><circle cx="286.3" cy="555.6" r="10.4" fill="#1e88f0"/><circle cx="286.3" cy="555.6" r="7.4" fill="#0e58b8"/><circle cx="286.6" cy="555.8" r="5.8" fill="#2b1a44"/><circle cx="289.2" cy="552.8" r="1.5" fill="#ffffff"/>
</g>
<path d="M189,431.5 C177,433 171.5,447 173.5,461 C175.5,474 182,481.5 191,482.5 Z" fill="#1e88f0" stroke="#151a3c" stroke-width="2.5" stroke-linejoin="round"/>
<path d="M180,440 C177,448 177,458 179.5,467" fill="none" stroke="#58b4ff" stroke-width="2" stroke-linecap="round"/>
<clipPath id="cpHead"><path d="M274.0,352.7 C282.1,352.9 291.1,353.6 300.0,355.5 C308.9,357.4 320.0,360.6 327.5,364.0 C335.0,367.4 340.3,371.6 345.0,376.0 C349.7,380.4 352.2,384.9 355.7,390.6 C359.2,396.3 363.2,403.0 366.0,410.0 C368.8,417.0 370.8,424.8 372.5,432.8 C374.2,440.8 376.9,449.5 376.5,458.0 C376.1,466.5 373.2,477.2 370.0,484.0 C366.8,490.8 362.2,494.8 357.0,499.0 C351.8,503.2 347.5,505.5 338.8,509.0 C330.1,512.5 315.8,517.5 305.0,520.0 C294.2,522.5 284.8,524.0 274.0,524.0 C263.2,524.0 250.6,523.0 240.3,520.0 C230.0,517.0 219.8,512.3 212.0,506.0 C204.2,499.7 198.1,490.9 193.5,482.0 C188.9,473.1 185.6,462.6 184.5,452.5 C183.4,442.4 184.2,431.9 187.0,421.6 C189.8,411.3 194.5,400.0 201.0,390.6 C207.5,381.2 217.6,371.0 226.0,365.0 C234.4,359.0 243.6,356.6 251.6,354.5 C259.6,352.4 265.9,352.5 274.0,352.7 Z"/></clipPath>
<path d="M274.0,352.7 C282.1,352.9 291.1,353.6 300.0,355.5 C308.9,357.4 320.0,360.6 327.5,364.0 C335.0,367.4 340.3,371.6 345.0,376.0 C349.7,380.4 352.2,384.9 355.7,390.6 C359.2,396.3 363.2,403.0 366.0,410.0 C368.8,417.0 370.8,424.8 372.5,432.8 C374.2,440.8 376.9,449.5 376.5,458.0 C376.1,466.5 373.2,477.2 370.0,484.0 C366.8,490.8 362.2,494.8 357.0,499.0 C351.8,503.2 347.5,505.5 338.8,509.0 C330.1,512.5 315.8,517.5 305.0,520.0 C294.2,522.5 284.8,524.0 274.0,524.0 C263.2,524.0 250.6,523.0 240.3,520.0 C230.0,517.0 219.8,512.3 212.0,506.0 C204.2,499.7 198.1,490.9 193.5,482.0 C188.9,473.1 185.6,462.6 184.5,452.5 C183.4,442.4 184.2,431.9 187.0,421.6 C189.8,411.3 194.5,400.0 201.0,390.6 C207.5,381.2 217.6,371.0 226.0,365.0 C234.4,359.0 243.6,356.6 251.6,354.5 C259.6,352.4 265.9,352.5 274.0,352.7 Z" fill="#b2b7c0"/>
<g clip-path="url(#cpHead)">
<ellipse cx="281" cy="428" rx="101" ry="84" transform="rotate(-9 281 428)" fill="#ecedf0"/>
<path d="M229.5,375 C239,362 300,356.5 318.5,365.5 C323,368.5 319,373.5 312,373.5 C290,371 255,374.5 238,381 C230.5,383.5 226.5,379.5 229.5,375 Z" fill="#ffffff"/>
<ellipse cx="291" cy="474.5" rx="52" ry="8" transform="rotate(-9.5 291 474.5)" fill="#ffffff"/>
<path d="M266,524 C273,511 284,501 295,501 C305,501 312,508 326,509 L330,520 L300,530 L262,530 Z" fill="#1e88f0"/>
<path d="M270,518 C277,508 286,503.5 295,503.5 C304,503.5 311,510 322,511" fill="none" stroke="#52b2ff" stroke-width="2"/>
<path d="M266,524 C273,511 284,501 295,501 C305,501 312,508 326,509" fill="none" stroke="#151a3c" stroke-width="1.6"/>
<g fill="none" stroke="#1e88f0" stroke-width="2" stroke-linejoin="round" stroke-linecap="round">
<path d="M230.5,368 L227.7,382 L206.6,403.3 L209.4,414"/>
<path d="M309.2,358.5 L313.5,371 L338.8,382.2 L343,396.5"/>
<path d="M229,476 L230.5,492 L237.5,500.3 L241.7,522"/>
<path d="M204,508 L215,499 L236,508.5"/>
<path d="M344.4,456 L338.8,486.3 L345.8,505"/>
<path d="M341.6,489 L361.3,475 L374,481"/>
</g>
</g>
<path d="M274.0,352.7 C282.1,352.9 291.1,353.6 300.0,355.5 C308.9,357.4 320.0,360.6 327.5,364.0 C335.0,367.4 340.3,371.6 345.0,376.0 C349.7,380.4 352.2,384.9 355.7,390.6 C359.2,396.3 363.2,403.0 366.0,410.0 C368.8,417.0 370.8,424.8 372.5,432.8 C374.2,440.8 376.9,449.5 376.5,458.0 C376.1,466.5 373.2,477.2 370.0,484.0 C366.8,490.8 362.2,494.8 357.0,499.0 C351.8,503.2 347.5,505.5 338.8,509.0 C330.1,512.5 315.8,517.5 305.0,520.0 C294.2,522.5 284.8,524.0 274.0,524.0 C263.2,524.0 250.6,523.0 240.3,520.0 C230.0,517.0 219.8,512.3 212.0,506.0 C204.2,499.7 198.1,490.9 193.5,482.0 C188.9,473.1 185.6,462.6 184.5,452.5 C183.4,442.4 184.2,431.9 187.0,421.6 C189.8,411.3 194.5,400.0 201.0,390.6 C207.5,381.2 217.6,371.0 226.0,365.0 C234.4,359.0 243.6,356.6 251.6,354.5 C259.6,352.4 265.9,352.5 274.0,352.7 Z" fill="none" stroke="#151a3c" stroke-width="3"/>
<path d="M198,436 C198,415 215,395.5 245,386.5 C275,378 320,376.5 340,389 C353,398 357,420 359,442 C359.3,448 356,450.3 350,451 C320,453 280,460 245,472.5 C225,479.5 212,476.5 204,466.5 C199,459 198,448 198,436 Z" transform="translate(1.2 4.2)" fill="#a3a8b2" stroke="#151a3c" stroke-width="1.6"/>
<path d="M198,436 C198,415 215,395.5 245,386.5 C275,378 320,376.5 340,389 C353,398 357,420 359,442 C359.3,448 356,450.3 350,451 C320,453 280,460 245,472.5 C225,479.5 212,476.5 204,466.5 C199,459 198,448 198,436 Z" fill="#2a2450" stroke="#151a3c" stroke-width="2.2"/>
<clipPath id="cpVis"><path d="M198,436 C198,415 215,395.5 245,386.5 C275,378 320,376.5 340,389 C353,398 357,420 359,442 C359.3,448 356,450.3 350,451 C320,453 280,460 245,472.5 C225,479.5 212,476.5 204,466.5 C199,459 198,448 198,436 Z"/></clipPath>
<g clip-path="url(#cpVis)" fill="none" stroke="#3a3262" stroke-width="2.2" opacity="0.45">
<path d="M195,414 Q280,392 362,388"/>
<path d="M195,425 Q280,403 362,399"/>
<path d="M195,436 Q280,414 362,410"/>
<path d="M195,447 Q280,425 362,421"/>
<path d="M195,458 Q280,436 362,432"/>
<path d="M195,469 Q280,447 362,443"/>
</g>
<ellipse cx="248.2" cy="431" rx="7.4" ry="20" transform="rotate(-11 248.2 431)" fill="#18e2ff"/>
<ellipse cx="331" cy="419" rx="7.2" ry="19.4" transform="rotate(-13 331 419)" fill="#18e2ff"/>
<g stroke-linejoin="round" stroke-linecap="round">
<clipPath id="cpRH"><path d="M374.2,546 C374,536 384,529 396,530 C411,531 426,536.5 440.5,544.5 C452,551 458.5,556.5 456.4,561.5 C453,569.5 435,575.5 415,575.2 C395,575 380,566.5 376,556 C374.7,552.5 374.2,549 374.2,546 Z"/></clipPath>
<path d="M374.2,546 C374,536 384,529 396,530 C411,531 426,536.5 440.5,544.5 C452,551 458.5,556.5 456.4,561.5 C453,569.5 435,575.5 415,575.2 C395,575 380,566.5 376,556 C374.7,552.5 374.2,549 374.2,546 Z" fill="#ecedf0"/>
<g clip-path="url(#cpRH)">
<path d="M377,556 C392,566 424,569.5 448,565 L450,580 L376,580 Z" fill="#a9b0b9"/>
<path d="M379.5,554 C394,564.5 424,567.5 448,563.5" fill="none" stroke="#151a3c" stroke-width="1.2"/>
<path d="M370,541 L390,536.5 L387,553 L379,562 L370,560 Z" fill="#1e88f0"/>
<path d="M374,548 L388,545.5" fill="none" stroke="#151a3c" stroke-width="1.1"/>
<path d="M441,541 L462,550 L460,566 L442,573 C437.5,563 437,551 441,541 Z" fill="#1e88f0"/>
<path d="M441,541 C437,551 437.5,563 442,573 M438.5,552.5 L458,557.5 M439.2,561.5 L454,565.5 M430,547.5 L438.5,550 M430.5,559.5 L439.5,561" fill="none" stroke="#151a3c" stroke-width="1.2"/>
</g>
<path d="M374.2,546 C374,536 384,529 396,530 C411,531 426,536.5 440.5,544.5 C452,551 458.5,556.5 456.4,561.5 C453,569.5 435,575.5 415,575.2 C395,575 380,566.5 376,556 C374.7,552.5 374.2,549 374.2,546 Z" fill="none" stroke="#151a3c" stroke-width="2.7"/>
<ellipse cx="399.8" cy="546.8" rx="13.6" ry="11.3" fill="#1e88f0" stroke="#151a3c" stroke-width="2.2"/>
<ellipse cx="400.5" cy="545.5" rx="9.5" ry="7.3" fill="#2a98f8"/>
<path d="M393,546 C396,551 404,551.5 408,547" fill="none" stroke="#1670d8" stroke-width="1.2"/>
</g>
<!-- cone tint on the robot head -->
<g clip-path="url(#cpHead)">
  <path d="M323,311 L384,530 L416,531 L523,360 L400,300 Z" fill="#5eb2f2" opacity="0.55"/>
</g>
<!-- cone end on the palm -->
<path d="M384.8,527 L389,540 Q400,547 411,540 L417,527 Z" fill="#2c90f4" opacity="0.6"/>
<path d="M388,528.5 C392,524 404,522.5 410,524.5 C415,526.5 408,530 402,531" fill="none" stroke="#46b0ff" stroke-width="1.4" stroke-linecap="round" opacity="0.95"/>
<defs>
  <linearGradient id="gInt" gradientUnits="userSpaceOnUse" x1="240" y1="0" x2="600" y2="0">
    <stop offset="0" stop-color="#a8f4ff"/>
    <stop offset="0.3" stop-color="#bcf8ff"/>
    <stop offset="0.5" stop-color="#d4fbff"/>
    <stop offset="0.68" stop-color="#f4ffff"/>
    <stop offset="0.8" stop-color="#ffffff"/>
    <stop offset="1" stop-color="#ffffff"/>
  </linearGradient>
  <linearGradient id="gB1" gradientUnits="userSpaceOnUse" x1="195" y1="0" x2="640" y2="0">
    <stop offset="0" stop-color="#5cd8f8"/>
    <stop offset="0.35" stop-color="#66e0ff"/>
    <stop offset="1" stop-color="#68e2ff"/>
  </linearGradient>
  <linearGradient id="gW2" gradientUnits="userSpaceOnUse" x1="237" y1="0" x2="530" y2="0">
    <stop offset="0" stop-color="#00b0fc"/>
    <stop offset="0.62" stop-color="#00d6ff"/>
    <stop offset="0.8" stop-color="#6ce8ff"/>
    <stop offset="1" stop-color="#e8fdff"/>
  </linearGradient>
  <linearGradient id="gB2" gradientUnits="userSpaceOnUse" x1="237" y1="0" x2="596" y2="0">
    <stop offset="0" stop-color="#04acfc"/>
    <stop offset="0.5" stop-color="#049af4"/>
    <stop offset="1" stop-color="#0488ee"/>
  </linearGradient>
  <linearGradient id="gW3" gradientUnits="userSpaceOnUse" x1="277" y1="0" x2="552" y2="0">
    <stop offset="0" stop-color="#0468b8"/>
    <stop offset="0.55" stop-color="#0488dc"/>
    <stop offset="0.78" stop-color="#30b0f0"/>
    <stop offset="1" stop-color="#c8f6ff"/>
  </linearGradient>
  <linearGradient id="gB3" gradientUnits="userSpaceOnUse" x1="277" y1="0" x2="557" y2="0">
    <stop offset="0" stop-color="#0668bc"/>
    <stop offset="0.45" stop-color="#046ed8"/>
    <stop offset="1" stop-color="#0260f2"/>
  </linearGradient>
  <linearGradient id="gW4" gradientUnits="userSpaceOnUse" x1="312" y1="0" x2="515" y2="0">
    <stop offset="0" stop-color="#084c9c"/>
    <stop offset="0.6" stop-color="#0868cc"/>
    <stop offset="0.85" stop-color="#38a8ee"/>
    <stop offset="1" stop-color="#b8f2ff"/>
  </linearGradient>
  <linearGradient id="gB4" gradientUnits="userSpaceOnUse" x1="312" y1="0" x2="521" y2="0">
    <stop offset="0" stop-color="#0a4ea4"/>
    <stop offset="0.5" stop-color="#0854c0"/>
    <stop offset="1" stop-color="#0650d0"/>
  </linearGradient>
  <linearGradient id="gW5" gradientUnits="userSpaceOnUse" x1="340" y1="0" x2="486" y2="0">
    <stop offset="0" stop-color="#0c54b0"/>
    <stop offset="0.6" stop-color="#0c78d4"/>
    <stop offset="1" stop-color="#1c98ea"/>
  </linearGradient>
  <linearGradient id="gB5" gradientUnits="userSpaceOnUse" x1="347" y1="0" x2="487" y2="0">
    <stop offset="0" stop-color="#0c3088"/>
    <stop offset="0.5" stop-color="#0a2470"/>
    <stop offset="1" stop-color="#07164c"/>
  </linearGradient>
</defs>
<!-- funnel interior backdrop -->
<path d="M258.5,98 L598.75,87.5 L596,127.5 L560,194 L557.5,224.5 L525,285 L521,310 L485,375 L486,396 L347.5,396 L340,372 L317,316 L316.5,294 L289,228 L289,203 L262.5,124 Z" fill="url(#gInt)" opacity="0.93"/>
<clipPath id="cpInt"><path d="M258.5,98 L598.75,87.5 L596,127.5 L560,194 L557.5,224.5 L525,285 L521,310 L485,375 L486,396 L347.5,396 L340,372 L317,316 L316.5,294 L289,228 L289,203 L262.5,124 Z"/></clipPath>
<g clip-path="url(#cpInt)">
  <rect x="284" y="198" width="50" height="34" fill="#c6c4f4" opacity="0.6"/>
  <rect x="310" y="290" width="50" height="30" fill="#a0c2f4" opacity="0.6"/>
</g>
<!-- band 1 -->
<path d="M195.5,17.5 C320,54 515,54 638.75,17.5 L598.75,87.5 C505,135 330,135 235,87.5 Z" fill="url(#gB1)"/>
<!-- band 2 wedge + front -->
<path d="M237.5,127 L296,110 C350,124 460,128 525,112.5 L390,157.5 Z" fill="url(#gW2)" stroke="url(#gW2)" stroke-width="1.2" stroke-linejoin="round"/>
<path d="M237.5,127 L390,157 Q470,159 515,151 Q560,142 596,127.5 L575,164 L560,194 C530,208 420,232 290,205 Z" fill="url(#gB2)" stroke="url(#gB2)" stroke-width="1.2" stroke-linejoin="round"/>
<!-- band 3 wedge + front -->
<path d="M277,224 L330,212 C400,224 480,218 552,198 L410,249.5 Z" fill="url(#gW3)" stroke="url(#gW3)" stroke-width="1.2" stroke-linejoin="round"/>
<path d="M277,224 L410,249 Q465,250 495,246 Q530,239 557.5,224.5 L525,285 C500,300 420,315 315,296 Z" fill="url(#gB3)" stroke="url(#gB3)" stroke-width="1.2" stroke-linejoin="round"/>
<!-- band 4 wedge + front -->
<path d="M312.5,311 L352,301.5 C400,309 460,306 515,289 L425,326.5 Z" fill="url(#gW4)" stroke="url(#gW4)" stroke-width="1.2" stroke-linejoin="round"/>
<path d="M312.5,311 L425,326 Q468,326 490,321 Q506,317 521,310 L485,375 C460,386 390,392 340,372 Z" fill="url(#gB4)" stroke="url(#gB4)" stroke-width="1.2" stroke-linejoin="round"/>
<!-- band 5 wedge + front -->
<path d="M340,372 C390,392 460,386 485,375 L486,396 Q412,414 347.5,396 Z" fill="url(#gW5)" stroke="url(#gW5)" stroke-width="1.2" stroke-linejoin="round"/>
<path d="M347.5,396.5 Q412,414 486.5,396.5 L448,462 Q417,473 385,461 Z" fill="url(#gB5)" stroke="url(#gB5)" stroke-width="1.2" stroke-linejoin="round"/>
<defs>
  <path id="tpC" d="M310,198.2 Q403,211.2 496,197.2"/>
  <path id="tpN" d="M325,280.4 Q418,293.5 512,279"/>
  <path id="tpS" d="M352,360.6 Q418,370.4 484,359.1"/>
</defs>
<g font-family="Liberation Sans, sans-serif" font-weight="bold" fill="#ffffff" stroke="#ffffff" stroke-width="2" stroke-linejoin="miter">
  <text font-size="32.5"><textPath href="#tpC" startOffset="4.4" textLength="178.5" lengthAdjust="spacingAndGlyphs">CAPTURE</textPath></text>
  <text font-size="32.5"><textPath href="#tpN" startOffset="3.4" textLength="181" lengthAdjust="spacingAndGlyphs">NURTURE</textPath></text>
  <text font-size="29.5"><textPath href="#tpS" startOffset="3.2" textLength="125.5" lengthAdjust="spacingAndGlyphs">CLOSE</textPath></text>
</g>

</svg>
</body></html>
